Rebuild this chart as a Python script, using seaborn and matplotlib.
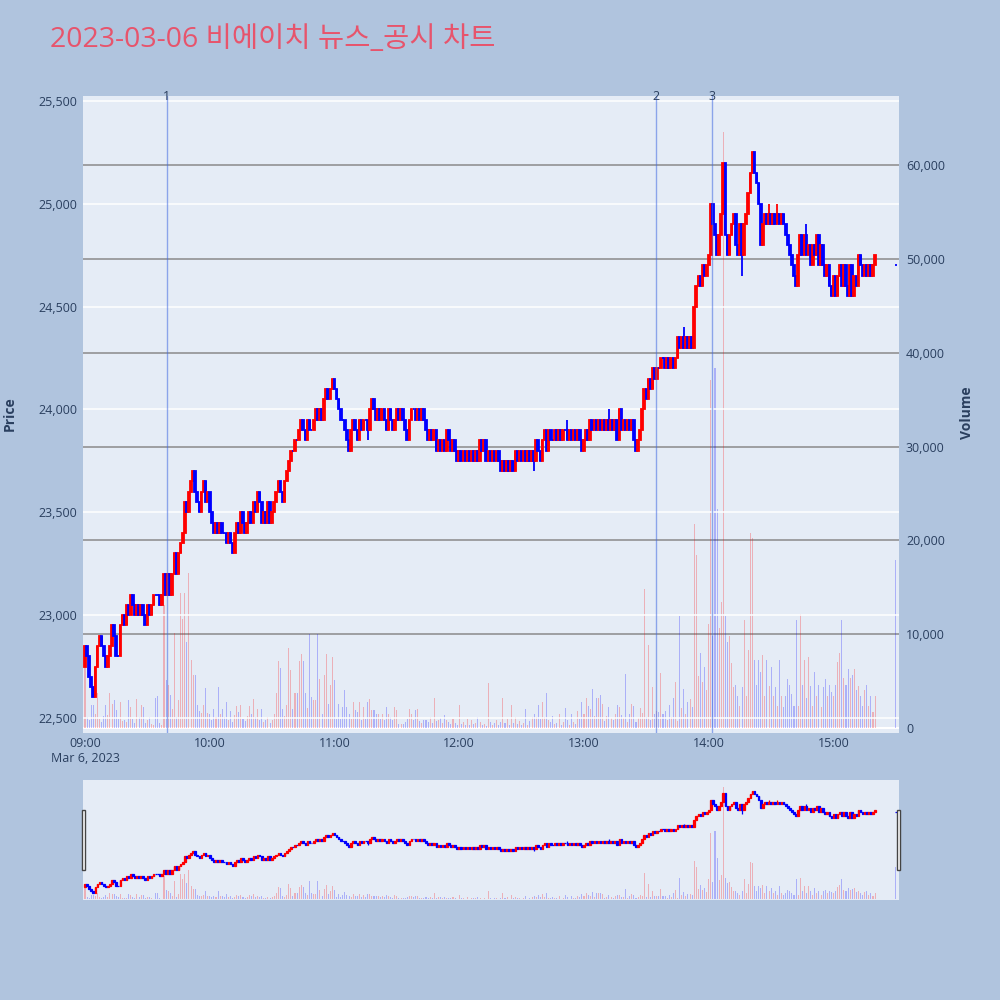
import numpy as np
import pandas as pd
import matplotlib
matplotlib.use("Agg")
import matplotlib.pyplot as plt
import matplotlib.transforms as mtransforms
from matplotlib.patches import Rectangle
import seaborn as sns

# 분봉 종가 (09:00 ~ 15:20, 1분 간격) + 15:30 동시호가
first_open = 22750
close_09 = [22850, 22800, 22700, 22650, 22600, 22750, 22850, 22900, 22850, 22800,
            22750, 22800, 22850, 22950, 22900, 22800, 22800, 22950, 23000, 22950,
            23050, 23000, 23100, 23050, 23000, 23050, 23000, 23050, 23000, 22950,
            23050, 23000, 23050, 23100, 23100, 23100, 23050, 23100, 23200, 23100,
            23200, 23100, 23200, 23300, 23200, 23300, 23350, 23400, 23550, 23500,
            23600, 23650, 23700, 23600, 23550, 23500, 23600, 23650, 23550, 23600]
close_10 = [23500, 23450, 23400, 23450, 23400, 23450, 23400, 23400, 23350, 23400,
            23350, 23300, 23400, 23450, 23400, 23500, 23450, 23400, 23450, 23500,
            23450, 23550, 23500, 23600, 23550, 23450, 23500, 23450, 23550, 23450,
            23500, 23550, 23600, 23650, 23600, 23550, 23650, 23700, 23750, 23800,
            23800, 23850, 23850, 23900, 23950, 23900, 23850, 23950, 23900, 23900,
            23950, 24000, 23950, 24000, 23950, 24050, 24100, 24050, 24100, 24150]
close_11 = [24100, 24050, 24000, 23950, 23950, 23900, 23850, 23800, 23900, 23950,
            23900, 23850, 23950, 23900, 23950, 23950, 23900, 24000, 24050, 24000,
            23950, 24000, 23950, 24000, 23950, 23900, 24000, 23950, 23900, 23950,
            24000, 23950, 24000, 23950, 23900, 23850, 23950, 24000, 24000, 23950,
            24000, 23950, 24000, 23950, 23900, 23850, 23900, 23850, 23900, 23800,
            23850, 23800, 23850, 23800, 23900, 23850, 23800, 23850, 23800, 23750]
close_12 = [23800, 23750, 23800, 23750, 23800, 23750, 23800, 23750, 23800, 23750,
            23850, 23800, 23850, 23750, 23800, 23750, 23800, 23750, 23800, 23750,
            23700, 23750, 23700, 23750, 23700, 23750, 23700, 23800, 23750, 23800,
            23750, 23800, 23750, 23800, 23750, 23800, 23750, 23850, 23800, 23750,
            23850, 23900, 23800, 23900, 23850, 23850, 23900, 23850, 23900, 23850,
            23900, 23900, 23850, 23900, 23850, 23900, 23850, 23900, 23850, 23800]
close_13 = [23850, 23900, 23850, 23950, 23900, 23950, 23900, 23950, 23900, 23950,
            23900, 23950, 23900, 23950, 23900, 23950, 23850, 24000, 23900, 23950,
            23900, 23950, 23900, 23950, 23850, 23800, 23850, 23900, 24000, 24100,
            24050, 24150, 24100, 24200, 24150, 24200, 24200, 24250, 24250, 24200,
            24250, 24200, 24250, 24200, 24250, 24350, 24300, 24350, 24300, 24350,
            24300, 24350, 24300, 24500, 24600, 24650, 24600, 24700, 24650, 24700]
close_14 = [24750, 25000, 24900, 24850, 24750, 24850, 24950, 25200, 24850, 24750,
            24850, 24900, 24950, 24800, 24750, 24900, 24750, 24900, 24950, 25050,
            25150, 25250, 25150, 25100, 25000, 24800, 24900, 24950, 24900, 24950,
            24900, 24950, 24900, 24950, 24900, 24950, 24900, 24850, 24800, 24750,
            24700, 24650, 24600, 24750, 24850, 24750, 24850, 24750, 24800, 24700,
            24800, 24750, 24850, 24700, 24800, 24700, 24650, 24700, 24600, 24550]
close_15 = [24650, 24550, 24650, 24700, 24600, 24700, 24600, 24550, 24700, 24550,
            24650, 24600, 24750, 24700, 24650, 24700, 24650, 24700, 24650, 24700, 24750]
close_1530 = 24700

# 꼬리 (분 인덱스: 가격)
wick_high = {139: 24050, 232: 23950, 252: 24000, 288: 24400, 329: 25000, 333: 25000, 347: 24900}
wick_low = {95: 23550, 136: 23850, 155: 23850, 216: 23700, 316: 24650}

# 분봉 거래량
vol_09 = [6500, 1200, 800, 2500, 2400, 1500, 3700, 1000, 600, 1300,
          2500, 1400, 3700, 2600, 3000, 1900, 1000, 2800, 700, 800,
          600, 3000, 2200, 1000, 500, 3100, 1200, 2400, 2200, 500,
          900, 1200, 400, 300, 3200, 3400, 500, 300, 13100, 5100,
          4600, 3500, 2000, 10100, 1200, 3000, 14400, 11600, 14400, 9200,
          16500, 7200, 5600, 5600, 2400, 1800, 1600, 2500, 4300, 1600]
vol_10 = [1500, 900, 2000, 1200, 4400, 1500, 2000, 1200, 2800, 900,
          1800, 600, 1400, 2300, 1700, 2400, 1000, 700, 1300, 2300,
          1500, 3100, 1200, 2000, 900, 2000, 600, 800, 1200, 500,
          900, 1500, 3700, 7100, 6400, 2000, 1300, 2500, 8500, 6200,
          2000, 3700, 3700, 7100, 7900, 7100, 3700, 2100, 10000, 3300,
          3000, 3000, 10000, 5200, 1500, 5600, 7900, 2600, 4600, 7600]
vol_11 = [5100, 1000, 2600, 1000, 2200, 4000, 2200, 1500, 1000, 2800,
          1900, 1700, 2800, 900, 2200, 1000, 2800, 3100, 1900, 1900,
          1500, 1500, 1000, 1500, 900, 2200, 1500, 1200, 800, 2200,
          1900, 400, 400, 400, 600, 1000, 2000, 1500, 900, 1900,
          2000, 700, 500, 800, 900, 600, 1200, 500, 3200, 700,
          900, 1100, 500, 1400, 800, 600, 400, 1000, 500, 300]
vol_12 = [2500, 400, 600, 300, 1000, 300, 800, 400, 500, 1200,
          600, 300, 400, 200, 4800, 600, 300, 500, 800, 300,
          600, 3200, 500, 1000, 300, 2500, 500, 1200, 400, 700,
          300, 500, 2000, 300, 700, 1200, 1500, 1200, 2500, 1000,
          2800, 1200, 3700, 800, 600, 1300, 400, 500, 1500, 300,
          600, 2100, 900, 300, 1500, 600, 400, 1800, 1000, 2800]
vol_13 = [1500, 3200, 2300, 2000, 4200, 1300, 3200, 3200, 3500, 2600,
          700, 1300, 2200, 1100, 800, 1500, 2500, 2200, 1400, 1100,
          5800, 600, 1500, 2600, 2300, 600, 1100, 2100, 1600, 14800,
          1200, 8800, 900, 4400, 1500, 1800, 1700, 5900, 1500, 1800,
          800, 2400, 1200, 3200, 4900, 700, 11900, 2100, 4200, 1500,
          2800, 3100, 2200, 21700, 18400, 5500, 8000, 4900, 6500, 4000]
vol_14 = [11100, 37100, 9800, 38400, 23300, 10700, 13400, 63500, 11900, 9200,
          9800, 6900, 4400, 4600, 3400, 2300, 4400, 11500, 3400, 8300,
          20800, 20300, 7300, 4600, 7300, 6000, 7800, 3400, 7300, 4500,
          6500, 3400, 4400, 2300, 7300, 3400, 2200, 3400, 5200, 4600,
          3600, 2300, 11500, 2300, 12100, 4600, 7300, 3200, 7600, 4500,
          2300, 6000, 3400, 4600, 2200, 4400, 5200, 3400, 4600, 3800]
vol_15 = [3400, 4600, 7000, 8000, 11500, 5300, 4600, 6300, 5300, 5700,
          6300, 4000, 4500, 3400, 2300, 4000, 4600, 2300, 3400, 1700, 3400]
vol_1530 = 17900

# 뉴스/공시 시점 (분)
event_min = [39.4, 274.5, 301.4]
event_lbl = ["1", "2", "3"]

hour_lbl = ["09:00", "10:00", "11:00", "12:00", "13:00", "14:00", "15:00"]
price_ticks = [22500, 23000, 23500, 24000, 24500, 25000, 25500]
vol_ticks = [0, 10000, 20000, 30000, 40000, 50000, 60000]

title = "2023-03-06 비에이치 뉴스_공시 차트"

# 데이터프레임 구성
closes = close_09 + close_10 + close_11 + close_12 + close_13 + close_14 + close_15
vols = vol_09 + vol_10 + vol_11 + vol_12 + vol_13 + vol_14 + vol_15
minutes = list(range(len(closes))) + [390]
opens = [first_open] + closes[:-1] + [close_1530]
closes = closes + [close_1530]
vols = vols + [vol_1530]

df = pd.DataFrame({"minute": minutes, "open": opens, "close": closes, "volume": vols})
df["high"] = df[["open", "close"]].max(axis=1)
df["low"] = df[["open", "close"]].min(axis=1)
for k, v in wick_high.items():
    df.loc[k, "high"] = max(df.loc[k, "high"], v)
for k, v in wick_low.items():
    df.loc[k, "low"] = min(df.loc[k, "low"], v)
df["direction"] = np.where(df["close"] > df["open"], "up", "down")
df["color"] = np.where(df["direction"] == "up", "#FF0000", "#0000FF")

BG = "#B0C4DE"
PLOT_BG = "#E5ECF6"
TXT = "#2a3f5f"
XLIM = (-1.2, 391.5)
PLIM = (22427, 25524)
VLIM = (-533, 67355)

sns.set_theme(style="white")
plt.rcParams["font.family"] = ["Open Sans", "Noto Sans CJK KR", "DejaVu Sans"]


def draw_panel(ax_v, ax_p, lw):
    # 거래량 (뒤쪽)
    sns.histplot(
        data=df, x="minute", weights="volume", hue="direction",
        hue_order=["up", "down"], palette={"up": "#FF0000", "down": "#0000FF"},
        discrete=True, shrink=0.5, alpha=0.25, linewidth=0,
        legend=False, ax=ax_v
    )
    # 캔들
    body_lo = df[["open", "close"]].min(axis=1)
    body_h = (df["close"] - df["open"]).abs()
    ax_p.vlines(df["minute"], df["low"], df["high"], colors=df["color"], lw=lw, zorder=3)
    ax_p.bar(df["minute"], body_h, bottom=body_lo, width=0.8,
             color=df["color"], edgecolor=df["color"], linewidth=lw, zorder=3)
    ax_v.set_xlim(*XLIM)
    ax_v.set_ylim(*VLIM)
    ax_p.set_ylim(*PLIM)
    ax_v.set_facecolor(PLOT_BG)
    ax_v.set_xlabel("")
    ax_v.set_ylabel("")
    for a in (ax_v, ax_p):
        for s in a.spines.values():
            s.set_visible(False)


fig = plt.figure(figsize=(10, 10), dpi=100)
fig.patch.set_facecolor(BG)

# 메인 차트
ax_v = fig.add_axes([0.0825, 0.267, 0.8165, 0.637])
ax_p = ax_v.twinx()
draw_panel(ax_v, ax_p, 1.3)

ax_v.yaxis.tick_right()
ax_p.yaxis.tick_left()
ax_v.set_yticks(vol_ticks)
ax_v.set_yticklabels([f"{t:,}" for t in vol_ticks])
ax_p.set_yticks(price_ticks)
ax_p.set_yticklabels([f"{t:,}" for t in price_ticks])
ax_v.set_xticks([60 * i for i in range(len(hour_lbl))])
ax_v.set_xticklabels(hour_lbl)
ax_v.tick_params(axis="y", length=0, pad=5, labelsize=9, labelcolor=TXT)
ax_p.tick_params(axis="y", length=0, pad=4, labelsize=9, labelcolor=TXT)
ax_v.tick_params(axis="x", length=0, pad=3, labelsize=9, labelcolor=TXT)

ax_v.grid(False)
ax_p.grid(False)
for t in vol_ticks[1:]:
    ax_v.axhline(t, color="#8a8a8a", lw=1.1, zorder=0.5)
ax_v.axhline(0, color="white", lw=1.5, zorder=0.5)
for t in price_ticks:
    ax_p.axhline(t, color="white", lw=1.1, zorder=1)

trans = mtransforms.blended_transform_factory(ax_p.transData, ax_p.transAxes)
for m, lbl in zip(event_min, event_lbl):
    ax_p.axvline(m, color="royalblue", alpha=0.55, lw=1, zorder=4)
    ax_p.text(m, 1.0, lbl, transform=trans, ha="center", va="center",
              fontsize=9, color=TXT, zorder=5)

fig.text(0.085, 1 - 0.758, "Mar 6, 2023", ha="center", va="center", fontsize=9, color=TXT)
fig.text(0.010, 0.586, "Price", rotation=90, ha="center", va="center",
         fontsize=10, fontweight="bold", color=TXT)
fig.text(0.967, 0.587, "Volume", rotation=90, ha="center", va="center",
         fontsize=10, fontweight="bold", color=TXT)
fig.text(0.050, 1 - 0.040, title, ha="left", va="center", fontsize=20.5, color="#E7546C")

# 레인지 슬라이더
ax_rv = fig.add_axes([0.0825, 0.100, 0.8165, 0.120])
ax_rp = ax_rv.twinx()
draw_panel(ax_rv, ax_rp, 0.9)
for a in (ax_rv, ax_rp):
    a.set_xticks([])
    a.set_yticks([])
    a.grid(False)

for hx in (0.0815, 0.8965):
    fig.add_artist(Rectangle((hx, 0.130), 0.0035, 0.060, transform=fig.transFigure,
                             facecolor="white", edgecolor="#444444", lw=1))

fig.savefig("out.png", dpi=100, facecolor=BG)
